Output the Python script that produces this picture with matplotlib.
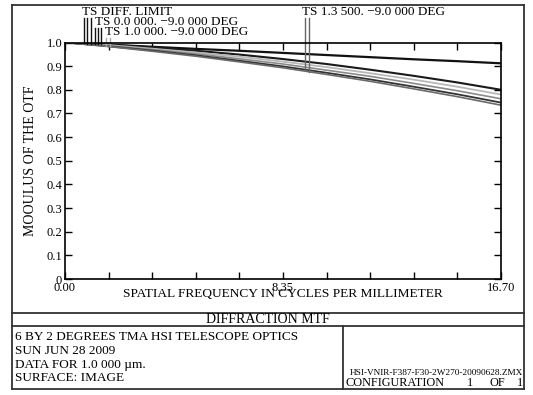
import numpy as np
import matplotlib.pyplot as plt
from matplotlib.lines import Line2D

plt.rcParams['font.family'] = ['Liberation Serif', 'DejaVu Serif']

W, H = 533, 395

# spatial frequency samples (cycles/mm)
freq = [0.0, 1.67, 3.34, 5.01, 6.68, 8.35, 10.02, 11.69, 13.36, 15.03, 16.70]

# MTF
diff_limit = [1.0, 0.991, 0.982, 0.973, 0.965, 0.956, 0.947, 0.938, 0.929, 0.921, 0.912]
field_a = [1.0, 0.991, 0.979, 0.965, 0.949, 0.930, 0.909, 0.885, 0.859, 0.831, 0.800]
field_b = [1.0, 0.989, 0.974, 0.958, 0.940, 0.919, 0.896, 0.870, 0.843, 0.813, 0.780]
field_c = [1.0, 0.986, 0.970, 0.952, 0.931, 0.909, 0.883, 0.857, 0.827, 0.796, 0.762]
field_d = [1.0, 0.984, 0.966, 0.946, 0.923, 0.899, 0.872, 0.844, 0.813, 0.781, 0.746]
field_e = [1.0, 0.983, 0.963, 0.942, 0.918, 0.893, 0.865, 0.836, 0.804, 0.771, 0.735]

curves = [diff_limit, field_a, field_b, field_c, field_d, field_e]
colors = ['#111111', '#1a1a1a', '#b8b8b8', '#8a8a8a', '#333333', '#6a6a6a']
widths = [1.6, 1.5, 1.3, 1.2, 1.3, 1.2]

x_ticks = [0, 1.67, 3.34, 5.01, 6.68, 8.35, 10.02, 11.69, 13.36, 15.03, 16.70]
x_labels = ['0.00', '', '', '', '', '8.35', '', '', '', '', '16.70']
y_ticks = [0, 0.1, 0.2, 0.3, 0.4, 0.5, 0.6, 0.7, 0.8, 0.9, 1.0]
y_labels = ['0', '0.1', '0.2', '0.3', '0.4', '0.5', '0.6', '0.7', '0.8', '0.9', '1.0']

# legend labels with the frequencies where their pointer lines sit
labels = ['TS DIFF. LIMIT', 'TS 0.0 000. \u22129.0 000 DEG',
          'TS 1.0 000. \u22129.0 000 DEG', 'TS 1.3 500. \u22129.0 000 DEG']
label_px = [(82, 12), (95, 22), (105, 32), (302, 12)]
pointer_f = [[0.73, 0.84, 1.0], [1.15, 1.26, 1.38], [1.57, 1.72], [9.19, 9.35]]
pointer_curve = [[0, 0, 0], [1, 2, 1], [3, 4], [4, 5]]
pointer_col = ['#111111', '#111111', '#aaaaaa', '#666666']


def fx(px):
    return px / W


def fy(py):
    return 1 - py / H


fig = plt.figure(figsize=(W / 100, H / 100), dpi=100)

ax_l, ax_r, ax_t, ax_b = 65, 501, 42.5, 279
ax = fig.add_axes([fx(ax_l), fy(ax_b), (ax_r - ax_l) / W, (ax_b - ax_t) / H])

for c, col, lw in zip(curves, colors, widths):
    ax.plot(freq, c, color=col, lw=lw, solid_capstyle='butt')

ax.set_xlim(0, 16.7)
ax.set_ylim(0, 1.0)
ax.set_xticks(x_ticks)
ax.set_xticklabels(x_labels, fontsize=9)
ax.set_yticks(y_ticks)
ax.set_yticklabels(y_labels, fontsize=9)
ax.tick_params(direction='in', length=5, width=1, top=True, right=True, pad=2)
for s in ax.spines.values():
    s.set_linewidth(1.2)
ax.set_xlabel('SPATIAL FREQUENCY IN CYCLES PER MILLIMETER', fontsize=9.6, labelpad=-4)
ax.set_ylabel('MOOULUS OF THE OTF', fontsize=10, labelpad=7)

# curve labels with their pointer lines
for lab, (lx, ly), fl, cl, pc in zip(labels, label_px, pointer_f, pointer_curve, pointer_col):
    fig.text(fx(lx), fy(ly), lab, fontsize=9.5, ha='left', va='center')
    for f, ci in zip(fl, cl):
        yv = np.interp(f, freq, curves[ci])
        ax.plot([f, f], [yv, 1.0 + (ax_t - ly - 6) / (ax_b - ax_t)],
                color=pc, lw=1.0, clip_on=False)

# frame and title block
L, R, T, B = 12, 524, 5, 389
row1, row2, div = 313, 326, 343
frame = [((L, R), (T, T)), ((L, R), (B, B)), ((L, L), (T, B)), ((R, R), (T, B)),
         ((L, R), (row1, row1)), ((L, R), (row2, row2)), ((div, div), (row2, B))]
for xs, ys in frame:
    fig.add_artist(Line2D([fx(xs[0]), fx(xs[1])], [fy(ys[0]), fy(ys[1])],
                          color='#333333', lw=1.3))

fig.text(fx((L + R) / 2), fy(319.5), 'DIFFRACTION MTF', fontsize=10, ha='center', va='center')
info = ['6 BY 2 DEGREES TMA HSI TELESCOPE OPTICS', 'SUN JUN 28 2009',
        'DATA FOR 1.0 000 \u00b5m.', 'SURFACE: IMAGE']
for i, line in enumerate(info):
    fig.text(fx(15), fy(337 + i * 13.8), line, fontsize=9.5, ha='left', va='center')
fig.text(fx(R - 1), fy(373), 'HSI-VNIR-F387-F30-2W270-20090628.ZMX', fontsize=6.7,
         ha='right', va='center', stretch='condensed')
fig.text(fx(div + 2), fy(383), 'CONFIGURATION', fontsize=8.8, ha='left', va='center')
fig.text(fx(470), fy(383), '1', fontsize=8.8, ha='center', va='center')
fig.text(fx(497), fy(383), 'OF', fontsize=8.8, ha='center', va='center')
fig.text(fx(520), fy(383), '1', fontsize=8.8, ha='center', va='center')

fig.savefig('out.png', dpi=100)
